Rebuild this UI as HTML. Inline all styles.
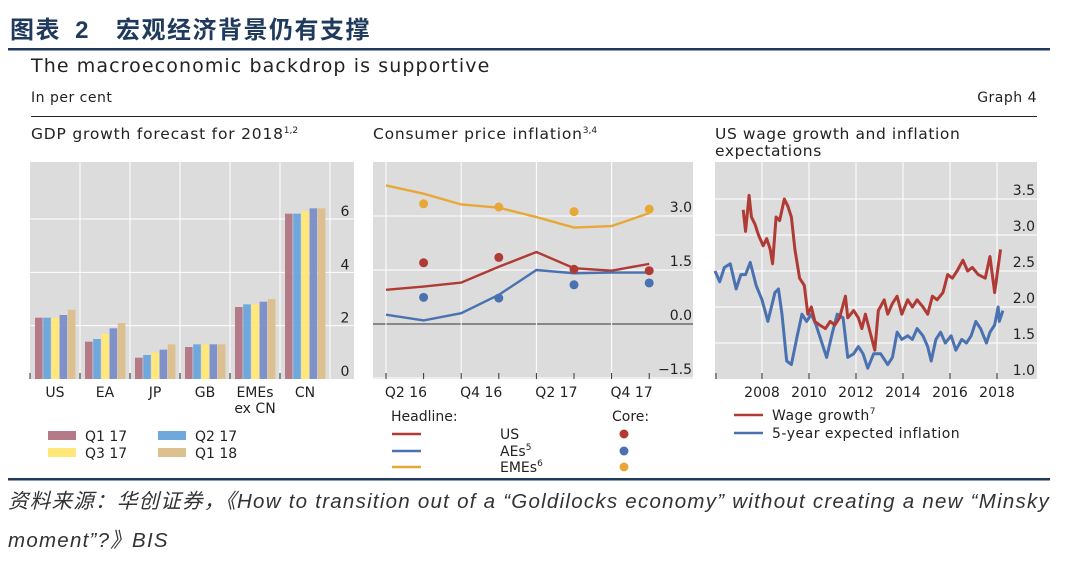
<!DOCTYPE html>
<html><head><meta charset="utf-8"><style>
body{margin:0;background:#fff;width:1080px;height:569px;overflow:hidden}
svg{display:block}
text{font-family:"DejaVu Sans","Noto Sans CJK SC",sans-serif}
.f{font-family:"Liberation Sans","Noto Sans CJK SC",sans-serif}
</style></head><body>
<svg id="s" width="1080" height="569">
<text class="f" x="10" y="38" font-size="24" font-weight="bold" fill="#1f3a5c" letter-spacing="1.5">图表 <tspan dx="6">2</tspan><tspan dx="26">宏观经济背景仍有支撑</tspan></text>
<rect x="8" y="48" width="1042" height="2.5" fill="#1f3a5c"/>
<text x="31" y="72" font-size="19" letter-spacing="1.1" fill="#222">The macroeconomic backdrop is supportive</text>
<text x="31" y="102" font-size="14" letter-spacing="0.5" fill="#222">In per cent</text>
<text x="1037" y="102" font-size="14" letter-spacing="0.5" fill="#222" text-anchor="end">Graph 4</text>
<rect x="31" y="116" width="1006" height="1" fill="#222"/>
<text x="31" y="139" font-size="15.5" letter-spacing="0.8" fill="#222">GDP growth forecast for 2018<tspan font-size="9" letter-spacing="0" dy="-6">1,2</tspan></text>
<text x="373" y="139" font-size="15.5" letter-spacing="0.8" fill="#222">Consumer price inflation<tspan font-size="9" letter-spacing="0" dy="-6">3,4</tspan></text>
<text x="715" y="139" font-size="15.5" letter-spacing="0.6" fill="#222">US wage growth and inflation</text>
<text x="715" y="156" font-size="15.5" letter-spacing="0.6" fill="#222">expectations</text>
<g id="p1"></g><g id="p2"></g><g id="p3"></g>
<rect x="8" y="478" width="1042" height="2.5" fill="#1f3a5c"/>
<text class="f" x="8" y="508" font-size="20.5" font-style="italic" fill="#333" letter-spacing="1.25">资料来源：华创证券，《How to transition out of a “Goldilocks economy” without creating a new “Minsky</text>
<text class="f" x="8" y="547" font-size="20.5" font-style="italic" fill="#333" letter-spacing="1.25">moment”?》BIS</text>
</svg>
<script>
// Panel 1 data
const gdpCats=["US","EA","JP","GB","EMEs","CN"];
const gdpQ117=[2.3,1.4,0.8,1.2,2.7,6.2];
const gdpQ217=[2.3,1.5,0.9,1.3,2.8,6.2];
const gdpQ317=[2.3,1.7,1.0,1.3,2.8,6.3];
const gdpQ417=[2.4,1.9,1.1,1.3,2.9,6.4];
const gdpQ118=[2.6,2.1,1.3,1.3,3.0,6.4];
const gdpTicks=[0,2,4,6];
// Panel 2 data
const cpiQuarters=["Q2 16","Q3 16","Q4 16","Q1 17","Q2 17","Q3 17","Q4 17","Q1 18"];
const cpiTickLabels=["Q2 16","Q4 16","Q2 17","Q4 17"];
const usHeadline=[0.95,1.04,1.15,1.59,2.0,1.55,1.48,1.67];
const aesHeadline=[0.26,0.1,0.30,0.81,1.5,1.41,1.43,1.43];
const emesHeadline=[3.85,3.62,3.32,3.23,2.97,2.68,2.72,3.08];
const coreIdx=[1,3,5,7];
const usCore=[1.70,1.85,1.52,1.48];
const aesCore=[0.74,0.72,1.09,1.14];
const emesCore=[3.34,3.25,3.12,3.19];
const cpiTicks=[-1.5,0,1.5,3];
// Panel 3 data
const blueYears=[2006.0,2006.2,2006.4,2006.65,2006.9,2007.1,2007.3,2007.5,2007.75,2008.0,2008.25,2008.55,2008.7,2008.85,2009.05,2009.25,2009.5,2009.7,2009.9,2010.1,2010.3,2010.55,2010.75,2011.0,2011.2,2011.45,2011.65,2011.9,2012.1,2012.3,2012.5,2012.75,2013.05,2013.35,2013.55,2013.75,2013.95,2014.2,2014.4,2014.6,2014.85,2015.05,2015.2,2015.4,2015.6,2015.8,2016.05,2016.25,2016.5,2016.7,2016.9,2017.1,2017.3,2017.55,2017.7,2017.9,2018.05,2018.1,2018.25];
const blueVals=[2.5,2.35,2.55,2.6,2.25,2.45,2.45,2.62,2.3,2.1,1.8,2.2,2.25,1.9,1.25,1.2,1.6,1.9,1.8,1.9,1.75,1.5,1.3,1.65,1.9,1.85,1.3,1.35,1.45,1.35,1.15,1.35,1.35,1.2,1.3,1.65,1.55,1.6,1.55,1.7,1.6,1.45,1.25,1.55,1.65,1.5,1.6,1.4,1.55,1.5,1.6,1.8,1.7,1.5,1.65,1.75,2.0,1.8,1.95];
const redYears=[2007.2,2007.3,2007.45,2007.55,2007.7,2007.85,2008.05,2008.2,2008.35,2008.45,2008.6,2008.75,2008.95,2009.1,2009.25,2009.4,2009.6,2009.8,2009.95,2010.1,2010.25,2010.45,2010.7,2010.9,2011.1,2011.3,2011.55,2011.65,2011.9,2012.1,2012.25,2012.4,2012.6,2012.8,2012.95,2013.2,2013.35,2013.55,2013.75,2013.95,2014.2,2014.4,2014.6,2014.85,2015.05,2015.25,2015.45,2015.7,2015.9,2016.1,2016.3,2016.55,2016.75,2016.95,2017.2,2017.5,2017.7,2017.9,2018.15];
const redVals=[3.35,3.05,3.55,3.25,3.15,3.0,2.85,2.95,2.8,2.6,3.25,3.2,3.5,3.4,3.25,2.8,2.4,2.3,1.9,2.0,1.8,1.75,1.7,1.8,1.75,1.85,2.15,1.85,1.95,1.85,1.7,1.9,1.65,1.4,1.95,2.1,1.9,2.05,2.15,1.9,2.1,2.0,2.1,2.0,1.9,2.15,2.1,2.2,2.45,2.4,2.5,2.65,2.5,2.55,2.45,2.4,2.7,2.2,2.8];
const wageTicks=[1.0,1.5,2.0,2.5,3.0,3.5];
const yearTicks=[2008,2010,2012,2014,2016,2018];

const NS="http://www.w3.org/2000/svg";
function mk(parent,tag,attrs){const e=document.createElementNS(NS,tag);for(const k in attrs)e.setAttribute(k,attrs[k]);parent.appendChild(e);return e;}
const GRID="#fff",BG="#dcdcdc";

// ---------- Panel 1 ----------
const p1=document.getElementById('p1');
const x1L=30,x1R=354,y1T=162,y1B=379;
const y1=v=>y1B-v*(y1B-219)/6;
const groupW=50,gx=i=>x1L+i*groupW;
let r=mk(p1,'rect',{x:x1L,y:y1T,width:x1R-x1L,height:y1B-y1T,fill:BG});

gdpTicks.forEach(t=>{
 if(t>0){let l=mk(p1,'line',{x1:x1L,x2:x1R,y1:y1(t),y2:y1(t),stroke:GRID,'stroke-width':1});}
 let tx=mk(p1,'text',{x:345,y:y1(t)-3,'font-size':14,fill:'#222','text-anchor':'middle'});tx.textContent=String(t);
 
});
for(let i=1;i<=gdpCats.length;i++){let l=mk(p1,'line',{x1:gx(i),x2:gx(i),y1:y1T,y2:y1B,stroke:GRID,'stroke-width':1});}
const gdpSeries=[gdpQ117,gdpQ217,gdpQ317,gdpQ417,gdpQ118];
const gdpColors=["#b57a88","#6fa8dc","#ffe77a","#8090c8","#dcc090"];
const gdpNames=["q1-17","q2-17","q3-17","q4-17","q1-18"];
gdpCats.forEach((c,i)=>{
 gdpSeries.forEach((s,j)=>{
  const x=gx(i)+5+j*8.2;
  let b=mk(p1,'rect',{x:x,y:y1(s[i]),width:7.6,height:y1B-y1(s[i]),fill:gdpColors[j]});
  
 });
 let tk=mk(p1,'line',{x1:gx(i),x2:gx(i),y1:y1B-6,y2:y1B,stroke:'#333'});
 let t=mk(p1,'text',{x:gx(i)+25,y:397,'font-size':14,fill:'#222','text-anchor':'middle'});t.textContent=c;
 
});
let ex=mk(p1,'text',{x:gx(4)+25,y:413,'font-size':14,fill:'#222','text-anchor':'middle'});ex.textContent="ex CN";

const leg1=[["Q1 17",0,48,440],["Q2 17",1,158,440],["Q3 17",2,48,457],["Q1 18",4,158,457]];
leg1.forEach(l=>{
 let sw=mk(p1,'rect',{x:l[2],y:l[3]-9,width:28,height:9,fill:gdpColors[l[1]]});
 let t=mk(p1,'text',{x:l[2]+37,y:l[3]+1,'font-size':14,fill:'#222'});t.textContent=l[0];
});

// ---------- Panel 2 ----------
const p2=document.getElementById('p2');
const x2L=373,x2R=693,y2T=162,y2B=379;
const x2=i=>386+i*37.6;
const y2=v=>324-v*(54/1.5);
r=mk(p2,'rect',{x:x2L,y:y2T,width:x2R-x2L,height:y2B-y2T,fill:BG});
cpiTicks.forEach(t=>{
 let l=mk(p2,'line',{x1:x2L,x2:x2R,y1:y2(t),y2:y2(t),stroke:t===0?'#333':GRID,'stroke-width':1});
 let tx=mk(p2,'text',{x:692,y:y2(t)-4,'font-size':14,fill:'#222','text-anchor':'end'});tx.textContent=(t<0?'\u2212':'')+Math.abs(t).toFixed(1);
 
});
cpiQuarters.forEach((q,i)=>{
 if(i%2===0){let g=mk(p2,'line',{x1:x2(i),x2:x2(i),y1:y2T,y2:y2B,stroke:GRID});}
 let tk=mk(p2,'line',{x1:x2(i),x2:x2(i),y1:y2B-6,y2:y2B,stroke:'#333'});
});
cpiTickLabels.forEach(lb=>{
 const i=cpiQuarters.indexOf(lb);
 let t=mk(p2,'text',{x:x2(i)+20,y:397,'font-size':14,fill:'#222','text-anchor':'middle'});t.textContent=lb;
});
const cpiLines=[[emesHeadline,"#e8a838","emes"],[usHeadline,"#b03a34","us"],[aesHeadline,"#4a72b0","aes"]];
cpiLines.forEach(s=>{
 let p=mk(p2,'polyline',{points:s[0].map((v,i)=>x2(i)+','+y2(v)).join(' '),fill:'none',stroke:s[1],'stroke-width':2.4});
 
});
[[usCore,"#b03a34","us"],[aesCore,"#4a72b0","aes"],[emesCore,"#e8a838","emes"]].forEach(s=>{
 s[0].forEach((v,k)=>{let c=mk(p2,'circle',{cx:x2(coreIdx[k]),cy:y2(v),r:4.5,fill:s[1]});});
});
let hd=mk(p2,'text',{x:391,y:421,'font-size':14,fill:'#222'});hd.textContent="Headline:";
let cr=mk(p2,'text',{x:612,y:421,'font-size':14,fill:'#222'});cr.textContent="Core:";
[["US","","#b03a34",434,"us"],["AEs","5","#4a72b0",451,"aes"],["EMEs","6","#e8a838",467,"emes"]].forEach(l=>{
 let ln=mk(p2,'line',{x1:392,x2:421,y1:l[3],y2:l[3],stroke:l[2],'stroke-width':2.4});
 let t=mk(p2,'text',{x:500,y:l[3]+5,'font-size':14,fill:'#222'});t.textContent=l[0];
 if(l[1]){let sp=mk(t,'tspan',{'font-size':9,dy:-6});sp.textContent=l[1];}
 
 let c=mk(p2,'circle',{cx:624,cy:l[3],r:4.5,fill:l[2]});
});

// ---------- Panel 3 ----------
const p3=document.getElementById('p3');
const x3L=715,x3R=1037,y3T=162,y3B=379;
const x3=yr=>762+(yr-2008)*23.5;
const y3=v=>379-(v-1)*72;
r=mk(p3,'rect',{x:x3L,y:y3T,width:x3R-x3L,height:y3B-y3T,fill:BG});
wageTicks.forEach(t=>{
 if(t>1){let l=mk(p3,'line',{x1:x3L,x2:x3R,y1:y3(t),y2:y3(t),stroke:GRID});}
 let tx=mk(p3,'text',{x:1035,y:y3(t)-4,'font-size':14,fill:'#222','text-anchor':'end'});tx.textContent=t.toFixed(1);
 
});
[2006].concat(yearTicks).forEach(yr=>{
 if(yr>2006){let g=mk(p3,'line',{x1:x3(yr),x2:x3(yr),y1:y3T,y2:y3B,stroke:GRID});}
 let tk=mk(p3,'line',{x1:Math.max(x3(yr),x3L+1),x2:Math.max(x3(yr),x3L+1),y1:y3B-6,y2:y3B,stroke:'#333'});
});
yearTicks.forEach(yr=>{let t=mk(p3,'text',{x:x3(yr),y:397,'font-size':14,fill:'#222','text-anchor':'middle'});t.textContent=String(yr);});
let bl=mk(p3,'polyline',{points:blueYears.map((yr,i)=>x3(yr)+','+y3(blueVals[i])).join(' '),fill:'none',stroke:'#4a72b0','stroke-width':3,'stroke-linejoin':'round'});

let rl=mk(p3,'polyline',{points:redYears.map((yr,i)=>x3(yr)+','+y3(redVals[i])).join(' '),fill:'none',stroke:'#b03a34','stroke-width':3,'stroke-linejoin':'round'});

[["Wage growth","7","#b03a34",415,"wage-growth"],["5-year expected inflation","","#4a72b0",433,"expected-inflation"]].forEach(l=>{
 let ln=mk(p3,'line',{x1:734,x2:763,y1:l[3],y2:l[3],stroke:l[2],'stroke-width':2.4});
 let t=mk(p3,'text',{x:772,y:l[3]+5,'font-size':14,'letter-spacing':0.5,fill:'#222'});t.textContent=l[0];
 if(l[1]){let sp=mk(t,'tspan',{'font-size':9,dy:-6});sp.textContent=l[1];}
 
});
</script>
</body></html>
